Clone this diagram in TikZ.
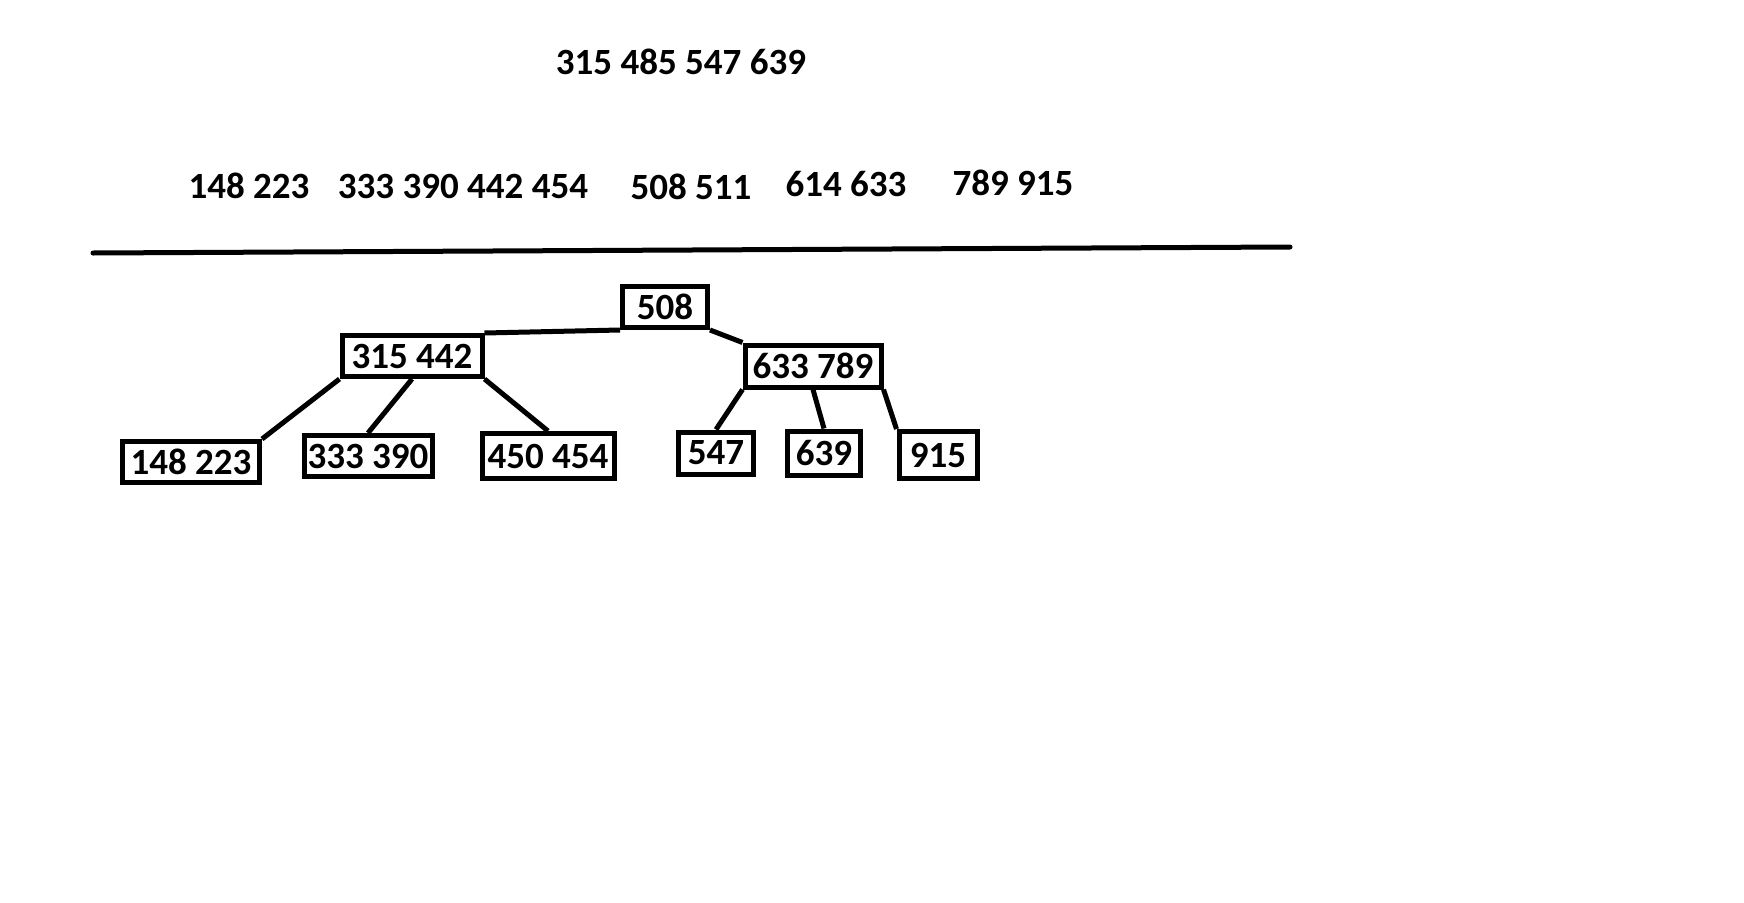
\documentclass[tikz,border=0pt]{standalone}
\usepackage{fontspec}
\setmainfont{Carlito}
\usepackage{tikz}

\begin{document}
\begin{tikzpicture}[x=1pt,y=-1pt,line width=5pt,
    block/.style={draw,rectangle,inner sep=0pt,minimum height=41,font=\fontsize{37}{44}\selectfont\bfseries},
    keys/.style={inner sep=0pt,font=\fontsize{37}{44}\selectfont\bfseries}]
        \useasboundingbox (0,0) rectangle (1744,902);

        % key lists above the rule
        \node[keys] (top) at (681,62) {315 485 547 639};
        \node[keys] (s1) at (249,186) {148 223};
        \node[keys] (s2) at (463,186) {333 390 442 454};
        \node[keys] (s3) at (691,187) {508 511};
        \node[keys] (s4) at (846,184) {614 633};
        \node[keys] (s5) at (1013,183) {789 915};

        \coordinate (ra) at (93,253);
        \coordinate (rb) at (1290,247);
        \draw[line cap=round] (ra) -- (rb);

        % the tree
        \node[block, minimum width=85] (k0) at (665,307) {508};
        \node[block, minimum width=140] (k1) at (412,356) {315 442};
        \node[block, minimum width=136, minimum height=42] (k2) at (813,366) {633 789};
        \node[block, minimum width=137] (l1) at (191,462) {148 223};
        \node[block, minimum width=128] (l2) at (368,456) {333 390};
        \node[block, minimum width=132, minimum height=45] (l3) at (548,456) {450 454};
        \node[block, minimum width=75, minimum height=42] (l4) at (716,453) {547};
        \node[block, minimum width=73, minimum height=44] (l5) at (824,453) {639};
        \node[block, minimum width=78, minimum height=47] (l6) at (938,455) {915};

        \path (k0.south west) edge (k1.north east);
        \path (k0.south east) edge (k2.north west);
        \path (k1.south west) edge (l1.north east);
        \path (k1.south) edge (l2.north);
        \path (k1.south east) edge (l3.north);
        \path (k2.south west) edge (l4.north);
        \path (k2.south) edge (l5.north);
        \path (k2.south east) edge (l6.north west);
      \end{tikzpicture}
\end{document}
